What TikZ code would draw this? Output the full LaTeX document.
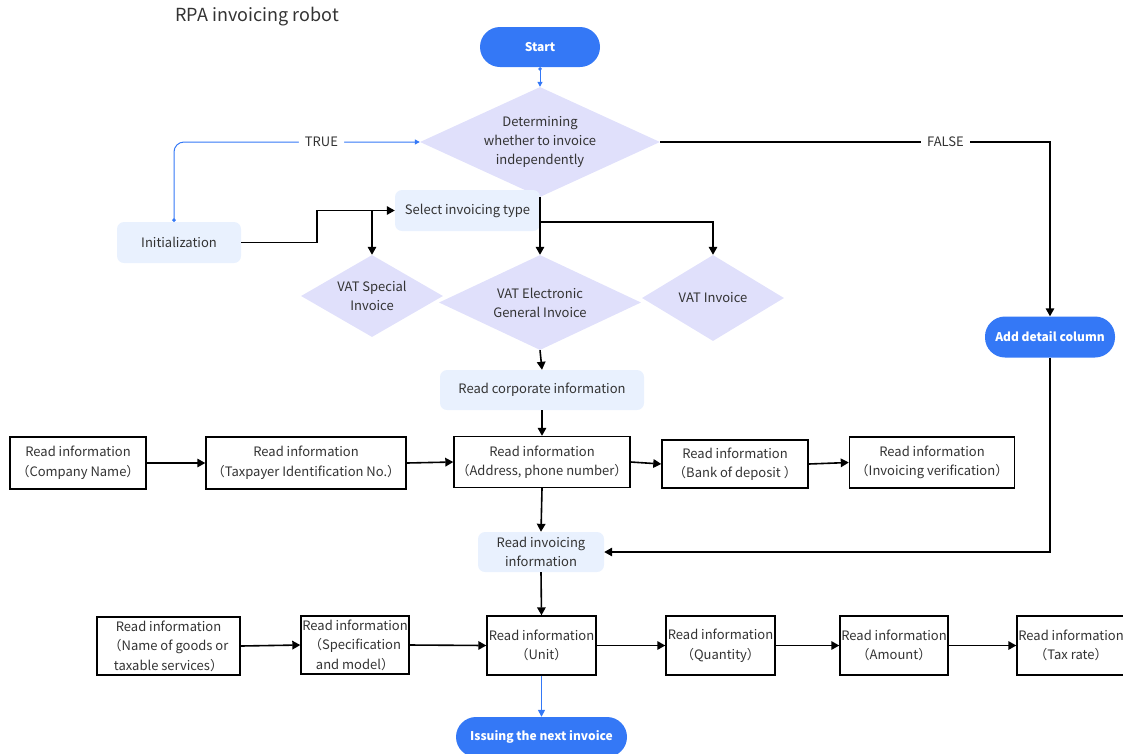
\documentclass[tikz,border=0pt]{standalone}
\usepackage{fontspec}
\setmainfont{Noto Sans CJK SC}
\usetikzlibrary{arrows.meta,shapes.geometric}

\definecolor{pillblue}{RGB}{52,120,246}
\definecolor{lavender}{RGB}{224,224,251}
\definecolor{paleblue}{RGB}{233,241,254}
\definecolor{inkgray}{RGB}{51,51,51}

\tikzset{
  pill/.style={rectangle, rounded corners=20pt, fill=pillblue, text=white, inner sep=0pt, font=\fontsize{12}{17}\selectfont\bfseries},
  soft/.style={rectangle, rounded corners=7pt, fill=paleblue, text=inkgray, align=center, inner sep=0pt, font=\fontsize{13}{19}\selectfont},
  decision/.style={diamond, fill=lavender, text=inkgray, align=center, inner sep=0pt, font=\fontsize{13}{19}\selectfont},
  readbox/.style={rectangle, draw=black, line width=1.4pt, fill=white, text=inkgray, align=center, inner sep=0pt, font=\fontsize{13}{19.5}\selectfont},
  flow/.style={draw=black, line width=1.6pt, -{Triangle[length=8pt,width=8.5pt]}},
  blueflow/.style={draw=pillblue, line width=1pt, {Circle[length=3.5pt]}-{Triangle[length=5pt,width=5pt]}},
  branchlabel/.style={fill=white, text=inkgray, inner xsep=6pt, font=\fontsize{13}{15}\selectfont}
}

\begin{document}
\begin{tikzpicture}[x=1pt,y=1pt,yscale=-1,xscale=1]
\useasboundingbox (0,0) rectangle (1123,753);

% Text Node
\node [anchor=west, text=inkgray, font=\fontsize{18}{22}\selectfont] (title) at (172,17) {RPA invoicing robot};

%Shape: Pills
\node [pill, minimum width=120pt, minimum height=40pt] (start) at (540,47) {Start};
\node [pill, minimum width=130pt, minimum height=41pt] (detail) at (1050,337) {Add detail column};
\node [pill, minimum width=171pt, minimum height=40pt] (issue) at (541.5,737) {Issuing the next invoice};

%Shape: Diamonds
\node [decision, minimum width=240pt, minimum height=110pt, aspect=2.2] (decide) at (540,142) {Determining\\whether to invoice\\independently};
\node [decision, minimum width=142pt, minimum height=82pt, aspect=1.73] (special) at (372,296) {VAT Special\\Invoice};
\node [decision, minimum width=202pt, minimum height=95pt, aspect=2.1] (electronic) at (540,302.5) {VAT Electronic\\General Invoice};
\node [decision, minimum width=142pt, minimum height=86pt, aspect=1.65] (vatinv) at (713,298) {VAT Invoice};

%Shape: Soft boxes
\node [soft, minimum width=145pt, minimum height=41pt] (select) at (467.5,210.5) {Select invoicing type};
\node [soft, minimum width=124pt, minimum height=41pt] (init) at (179,242.5) {Initialization};
\node [soft, minimum width=204pt, minimum height=40pt] (corporate) at (542,390) {Read corporate information};
\node [soft, minimum width=126pt, minimum height=40pt] (readinv) at (541,552) {Read invoicing\\information};

%Shape: Read boxes, first row
\node [readbox, minimum width=136pt, minimum height=52pt] (company) at (78,463) {Read information\\（Company Name）};
\node [readbox, minimum width=200pt, minimum height=52pt] (taxpayer) at (306,463) {Read information\\（Taxpayer Identification No.）};
\node [readbox, minimum width=176pt, minimum height=51pt] (address) at (542,462) {Read information\\（Address, phone number）};
\node [readbox, minimum width=146pt, minimum height=48pt] (bank) at (735,464) {Read information\\（Bank of deposit ）};
\node [readbox, minimum width=165pt, minimum height=51pt] (verify) at (932,462.5) {Read information\\（Invoicing verification）};

%Shape: Read boxes, second row
\node [readbox, minimum width=143pt, minimum height=58pt] (goods) at (168.5,646) {Read information\\（Name of goods or\\taxable services）};
\node [readbox, minimum width=108pt, minimum height=58pt] (spec) at (355,645) {Read information\\（Specification\\and model）};
\node [readbox, minimum width=109pt, minimum height=59pt] (unit) at (541.5,645.5) {Read information\\（Unit）};
\node [readbox, minimum width=109pt, minimum height=59pt] (quantity) at (720.5,645.5) {Read information\\（Quantity）};
\node [readbox, minimum width=108pt, minimum height=59pt] (amount) at (894,645.5) {Read information\\（Amount）};
\node [readbox, minimum width=108pt, minimum height=59pt] (taxrate) at (1071,645.5) {Read information\\（Tax rate）};

%Straight Lines: decision branches
\draw [blueflow] (start.south) -- (decide.north);
\draw [blueflow, rounded corners=10pt] ([xshift=-5pt]init.north) |- node [branchlabel, pos=0.8] {TRUE} (decide.west);
\draw [flow] (decide.east) -| node [branchlabel, pos=0.366] {FALSE} (detail.north);

%Straight Lines: invoice type
\draw [flow] (init.east) -- ++(76,0) |- (select.west);
\draw [flow] (special.north |- select.west) -- (special.north);
\draw [flow] (decide.south) -- (electronic.north);
\draw [flow] ([yshift=25pt]decide.south) -| (vatinv.north);
\draw [flow] (electronic.south) -- (corporate.north);
\draw [flow] (corporate.south) -- (address.north);

%Straight Lines: first row
\draw [flow] (company.east) -- (taxpayer.west);
\draw [flow] (taxpayer.east) -- (address.west);
\draw [flow] (address.east) -- (bank.west);
\draw [flow] (bank.east) -- (verify.west);

%Straight Lines: invoicing information
\draw [flow] (address.south) -- (readinv.north);
\draw [flow] (detail.south) |- (readinv.east);
\draw [flow] (readinv.south) -- (unit.north);

%Straight Lines: second row
\draw [flow] (goods.east) -- (spec.west);
\draw [flow] (spec.east) -- (unit.west);
\draw [flow] (unit.east) -- (quantity.west);
\draw [flow] (quantity.east) -- (amount.west);
\draw [flow] (amount.east) -- (taxrate.west);
\draw [draw=pillblue, line width=1.4pt, -{Triangle[length=7pt,width=7pt]}] (unit.south) -- (issue.north);

\end{tikzpicture}
\end{document}
